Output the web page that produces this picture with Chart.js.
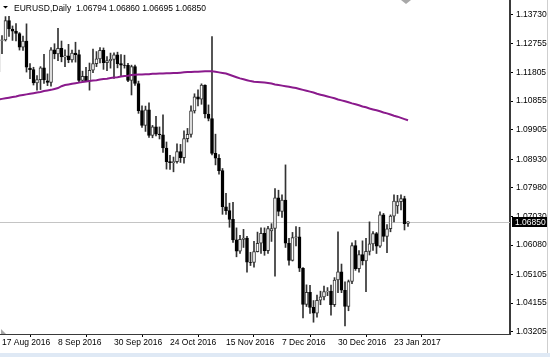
<!DOCTYPE html>
<html><head><meta charset="utf-8">
<script src="https://cdn.jsdelivr.net/npm/chart.js@4.4.1/dist/chart.umd.min.js"></script>
<style>html,body{margin:0;padding:0;background:#fff;}#wrap{width:550px;height:357px;position:relative;}</style>
</head><body><div id="wrap"><canvas id="c" width="550" height="357"></canvas></div>
<script>
const dates = [
"16 Aug 2016","17 Aug 2016","18 Aug 2016","19 Aug 2016","22 Aug 2016","23 Aug 2016","24 Aug 2016","25 Aug 2016","26 Aug 2016","29 Aug 2016","30 Aug 2016","31 Aug 2016",
"1 Sep 2016","2 Sep 2016","5 Sep 2016","6 Sep 2016","7 Sep 2016","8 Sep 2016","9 Sep 2016","12 Sep 2016","13 Sep 2016","14 Sep 2016","15 Sep 2016","16 Sep 2016","19 Sep 2016","20 Sep 2016","21 Sep 2016","22 Sep 2016","23 Sep 2016","26 Sep 2016","27 Sep 2016","28 Sep 2016","29 Sep 2016","30 Sep 2016",
"3 Oct 2016","4 Oct 2016","5 Oct 2016","6 Oct 2016","7 Oct 2016","10 Oct 2016","11 Oct 2016","12 Oct 2016","13 Oct 2016","14 Oct 2016","17 Oct 2016","18 Oct 2016","19 Oct 2016","20 Oct 2016","21 Oct 2016","24 Oct 2016","25 Oct 2016","26 Oct 2016","27 Oct 2016","28 Oct 2016","31 Oct 2016",
"1 Nov 2016","2 Nov 2016","3 Nov 2016","4 Nov 2016","7 Nov 2016","8 Nov 2016","9 Nov 2016","10 Nov 2016","11 Nov 2016","14 Nov 2016","15 Nov 2016","16 Nov 2016","17 Nov 2016","18 Nov 2016","21 Nov 2016","22 Nov 2016","23 Nov 2016","24 Nov 2016","25 Nov 2016","28 Nov 2016","29 Nov 2016","30 Nov 2016",
"1 Dec 2016","2 Dec 2016","5 Dec 2016","6 Dec 2016","7 Dec 2016","8 Dec 2016","9 Dec 2016","12 Dec 2016","13 Dec 2016","14 Dec 2016","15 Dec 2016","16 Dec 2016","19 Dec 2016","20 Dec 2016","21 Dec 2016","22 Dec 2016","23 Dec 2016","27 Dec 2016","28 Dec 2016","29 Dec 2016","30 Dec 2016",
"2 Jan 2017","3 Jan 2017","4 Jan 2017","5 Jan 2017","6 Jan 2017","9 Jan 2017","10 Jan 2017","11 Jan 2017","12 Jan 2017","13 Jan 2017","16 Jan 2017","17 Jan 2017","18 Jan 2017","19 Jan 2017","20 Jan 2017","23 Jan 2017","24 Jan 2017","25 Jan 2017","26 Jan 2017","27 Jan 2017"];

const opens = [
1.1183,1.1287,1.1289,1.1353,1.1325,1.1318,1.1310,1.1265,1.1285,1.1195,1.1190,1.1146,
1.1157,1.1196,1.1153,1.1148,1.1256,1.1242,1.1261,1.1232,1.1236,1.1222,1.1245,1.1240,1.1154,1.1168,1.1153,1.1188,1.1210,1.1226,1.1254,1.1213,1.1220,1.1224,
1.1239,1.1210,1.1205,1.1204,1.1154,1.1200,1.1144,1.1054,1.1005,1.1057,1.0972,1.1000,1.0976,1.0974,1.0930,1.0885,1.0881,1.0885,1.0918,1.0898,1.0961,
1.0975,1.1053,1.1100,1.1092,1.1139,1.1043,1.1028,1.0912,1.0896,1.0855,1.0735,1.0722,1.0693,1.0625,1.0588,1.0627,1.0631,1.0551,1.0550,1.0586,1.0614,1.0647,
1.0589,1.0655,1.0663,1.0765,1.0720,1.0757,1.0614,1.0557,1.0633,1.0635,1.0531,1.0411,1.0451,1.0401,1.0382,1.0425,1.0436,1.0454,1.0455,1.0410,1.0492,
1.0519,1.0458,1.0404,1.0487,1.0606,1.0530,1.0576,1.0555,1.0587,1.0612,1.0646,1.0604,1.0708,1.0637,1.0662,1.0704,1.0738,1.0752,1.0762,1.06794];
const highs = [
1.1323,1.1303,1.1366,1.1367,1.1335,1.1343,1.1313,1.1301,1.1342,1.1210,1.1198,1.1170,
1.1200,1.1241,1.1176,1.1263,1.1276,1.1327,1.1285,1.1256,1.1274,1.1255,1.1281,1.1255,1.1185,1.1198,1.1212,1.1258,1.1250,1.1263,1.1262,1.1233,1.1245,1.1246,
1.1248,1.1240,1.1238,1.1211,1.1205,1.1205,1.1152,1.1070,1.1069,1.1080,1.1005,1.1035,1.1000,1.1040,1.0950,1.0906,1.0900,1.0944,1.0942,1.0987,1.0995,
1.1070,1.1110,1.1123,1.1143,1.1140,1.1073,1.1300,1.0976,1.0908,1.0862,1.0780,1.0747,1.0750,1.0665,1.0640,1.0660,1.0637,1.0584,1.0620,1.0651,1.0665,1.0665,
1.0670,1.0679,1.0795,1.0790,1.0775,1.0874,1.0630,1.0650,1.0669,1.0667,1.0533,1.0476,1.0474,1.0424,1.0442,1.0455,1.0472,1.0467,1.0475,1.0500,1.0652,
1.0545,1.0486,1.0492,1.0615,1.0623,1.0590,1.0622,1.0630,1.0685,1.0653,1.0650,1.0718,1.0713,1.0676,1.0708,1.0775,1.0773,1.0775,1.0770,1.06860];
const lows = [
1.1175,1.1243,1.1285,1.1300,1.1287,1.1285,1.1255,1.1254,1.1182,1.1160,1.1139,1.1122,
1.1124,1.1144,1.1137,1.1135,1.1226,1.1220,1.1216,1.1200,1.1213,1.1215,1.1215,1.1150,1.1151,1.1150,1.1122,1.1180,1.1200,1.1212,1.1191,1.1187,1.1195,1.1161,
1.1196,1.1170,1.1195,1.1150,1.1106,1.1138,1.1045,1.0998,1.0985,1.0965,1.0964,1.0970,1.0960,1.0915,1.0860,1.0859,1.0851,1.0880,1.0882,1.0880,1.0950,
1.0966,1.1046,1.1070,1.1075,1.1030,1.1020,1.0907,1.0874,1.0843,1.0710,1.0710,1.0667,1.0617,1.0569,1.0580,1.0600,1.0518,1.0540,1.0535,1.0585,1.0580,1.0574,
1.0580,1.0620,1.0505,1.0705,1.0700,1.0600,1.0541,1.0555,1.0605,1.0520,1.0366,1.0404,1.0381,1.0352,1.0369,1.0410,1.0426,1.0440,1.0375,1.0404,1.0450,
1.0450,1.0340,1.0390,1.0480,1.0524,1.0518,1.0542,1.0453,1.0575,1.0590,1.0580,1.0600,1.0620,1.0583,1.0652,1.0685,1.0713,1.0725,1.0658,1.06695];
const closes = [
1.1287,1.1289,1.1353,1.1325,1.1318,1.1310,1.1265,1.1285,1.1198,1.1190,1.1146,1.1157,
1.1196,1.1156,1.1148,1.1256,1.1242,1.1261,1.1232,1.1236,1.1222,1.1245,1.1240,1.1154,1.1168,1.1153,1.1188,1.1210,1.1226,1.1254,1.1213,1.1220,1.1224,1.1239,
1.1210,1.1205,1.1204,1.1154,1.1200,1.1144,1.1054,1.1005,1.1057,1.0972,1.1000,1.0976,1.0974,1.0930,1.0885,1.0881,1.0885,1.0918,1.0898,1.0961,1.0975,
1.1053,1.1100,1.1092,1.1139,1.1043,1.1028,1.0912,1.0896,1.0855,1.0735,1.0722,1.0693,1.0625,1.0588,1.0627,1.0631,1.0551,1.0550,1.0586,1.0614,1.0647,1.0589,
1.0663,1.0663,1.0765,1.0720,1.0757,1.0614,1.0557,1.0633,1.0635,1.0531,1.0411,1.0451,1.0401,1.0382,1.0425,1.0436,1.0454,1.0455,1.0410,1.0492,1.0519,
1.0458,1.0404,1.0487,1.0606,1.0530,1.0576,1.0555,1.0587,1.0612,1.0646,1.0604,1.0708,1.0637,1.0662,1.0704,1.0754,1.0752,1.0762,1.0679,1.06850];

const movingAverage = [
1.1091,1.1093,1.1095,1.1097,1.1099,1.1101,1.1104,1.1106,1.1108,1.1110,1.1112,1.1114,
1.1116,1.1119,1.1121,1.1123,1.1126,1.1129,1.1135,1.1139,1.1141,1.1143,1.1145,1.1147,1.1149,1.1151,1.1152,1.1154,1.1155,1.1157,1.1159,1.1160,1.1162,1.1164,
1.1165,1.1167,1.1169,1.1170,1.1172,1.1173,1.1174,1.1174,1.1175,1.1175,1.1176,1.1176,1.1177,1.1177,1.1178,1.1178,1.1179,1.1179,1.1180,1.1181,1.1182,
1.1182,1.1183,1.1183,1.1184,1.1185,1.1185,1.1185,1.1183,1.1181,1.1179,1.1177,1.1173,1.1169,1.1165,1.1161,1.1158,1.1155,1.1152,1.1150,1.1149,1.1148,1.1147,
1.1146,1.1144,1.1141,1.1139,1.1137,1.1135,1.1133,1.1131,1.1129,1.1126,1.1123,1.1120,1.1117,1.1114,1.1110,1.1107,1.1104,1.1101,1.1098,1.1095,1.1091,
1.1088,1.1085,1.1082,1.1078,1.1075,1.1072,1.1068,1.1065,1.1061,1.1058,1.1055,1.1052,1.1048,1.1045,1.1041,1.1037,1.1034,1.1030,1.1026,1.1022];

const yTicks = [1.13730,1.12755,1.11805,1.10855,1.09905,1.08930,1.07980,1.07030,1.06080,1.05105,1.04155,1.03205];
const xTickIdx = [1,17,33,49,65,81,97,113];
const xTickLabels = ["17 Aug 2016","8 Sep 2016","30 Sep 2016","24 Oct 2016","15 Nov 2016","7 Dec 2016","30 Dec 2016","23 Jan 2017"];
const symbolText = "EURUSD,Daily";
const lastBarText = "1.06794 1.06860 1.06695 1.06850";
const bidPrice = 1.06850;

const FONT = "'Liberation Sans', Arial, sans-serif";
const tickFont = {family: FONT, size: 8.5};

const decor = {
  id: 'decor',
  beforeDatasetsDraw(chart) {
    const ctx = chart.ctx, a = chart.chartArea;
    const y = Math.round(chart.scales.y.getPixelForValue(bidPrice)) + 0.5;
    ctx.save();
    ctx.strokeStyle = '#c4c4c4'; ctx.lineWidth = 1;
    ctx.beginPath(); ctx.moveTo(a.left, y); ctx.lineTo(a.right, y); ctx.stroke();
    ctx.restore();
  },
  afterDraw(chart) {
    const ctx = chart.ctx, a = chart.chartArea;
    ctx.save();
    const y = Math.round(chart.scales.y.getPixelForValue(bidPrice));
    ctx.fillStyle = '#000';
    ctx.fillRect(a.right + 2, y - 5, 35, 10);
    ctx.fillStyle = '#fff';
    ctx.font = "8.5px " + FONT;
    ctx.textBaseline = 'middle'; ctx.textAlign = 'left';
    ctx.fillText(bidPrice.toFixed(5), a.right + 5, y + 0.5);
    ctx.fillStyle = '#000';
    ctx.beginPath(); ctx.moveTo(3, 6); ctx.lineTo(8, 6); ctx.lineTo(5.5, 8.5); ctx.closePath(); ctx.fill();
    ctx.textBaseline = 'alphabetic';
    ctx.font = "8.5px " + FONT;
    ctx.fillText(symbolText, 14, 11);
    ctx.fillText(lastBarText, 76, 11);
    ctx.fillStyle = '#a8a8a8';
    ctx.beginPath(); ctx.moveTo(401, 0); ctx.lineTo(411, 0); ctx.lineTo(406, 4); ctx.closePath(); ctx.fill();
    ctx.beginPath(); ctx.moveTo(1, a.bottom - 5); ctx.lineTo(1, a.bottom); ctx.lineTo(6, a.bottom); ctx.closePath(); ctx.fill();
    ctx.fillStyle = '#cfcfcf'; ctx.fillRect(547, 0, 1, 353);
    ctx.fillStyle = '#dfe9f5'; ctx.fillRect(0, 353, 550, 4);
    ctx.restore();
  }
};

const idx = dates.map((d, i) => i);
new Chart(document.getElementById('c'), {
  type: 'bar',
  data: {
    datasets: [
      {
        type: 'line', label: 'MA',
        data: idx.map(i => ({x: i, y: movingAverage[i]})),
        borderColor: '#8a1a8c', borderWidth: 2, pointRadius: 0, tension: 0, order: 1
      },
      {
        type: 'bar', label: 'body',
        data: idx.map(i => ({x: i, y: [opens[i], closes[i]]})),
        backgroundColor: idx.map(i => closes[i] >= opens[i] ? '#ffffff' : '#000000'),
        borderColor: idx.map(i => closes[i] >= opens[i] ? '#333333' : '#000000'),
        borderWidth: 1, borderSkipped: false, barThickness: 3, grouped: false, order: 2
      },
      {
        type: 'bar', label: 'wick',
        data: idx.map(i => ({x: i, y: [lows[i], highs[i]]})),
        backgroundColor: '#333333', borderWidth: 0, barThickness: 1, grouped: false, order: 3
      }
    ]
  },
  options: {
    responsive: false, animation: false, devicePixelRatio: 1,
    layout: {padding: 0},
    plugins: {legend: {display: false}, tooltip: {enabled: false}},
    scales: {
      x: {
        type: 'linear', position: 'bottom', offset: false,
        min: 1 - 2 / 3.5, max: 1 - 2 / 3.5 + 510 / 3.5,
        grid: {display: true, drawOnChartArea: false, drawTicks: true, tickLength: 3, color: '#000'},
        border: {display: true, color: '#3a3a3a', width: 1},
        ticks: {autoSkip: false, maxRotation: 0, align: 'start', padding: 1, color: '#000', font: tickFont,
          callback: v => { const k = xTickIdx.indexOf(v); return k >= 0 ? xTickLabels[k] : ''; }},
        afterBuildTicks: s => { s.ticks = xTickIdx.map(v => ({value: v})); },
        afterFit: s => { s.height = 23; s.paddingLeft = 0; s.paddingRight = 0; }
      },
      y: {
        type: 'linear', position: 'right',
        min: 1.03129, max: 1.14211,
        grid: {display: true, drawOnChartArea: false, drawTicks: true, tickLength: 3, color: '#000'},
        border: {display: true, color: '#3a3a3a', width: 2},
        ticks: {color: '#000', font: tickFont, padding: 3, callback: v => Number(v).toFixed(5)},
        afterBuildTicks: s => { s.ticks = yTicks.map(v => ({value: v})); },
        afterFit: s => { s.width = 40; s.paddingTop = 0; s.paddingBottom = 0; }
      }
    }
  },
  plugins: [decor]
});
</script>
</body></html>
